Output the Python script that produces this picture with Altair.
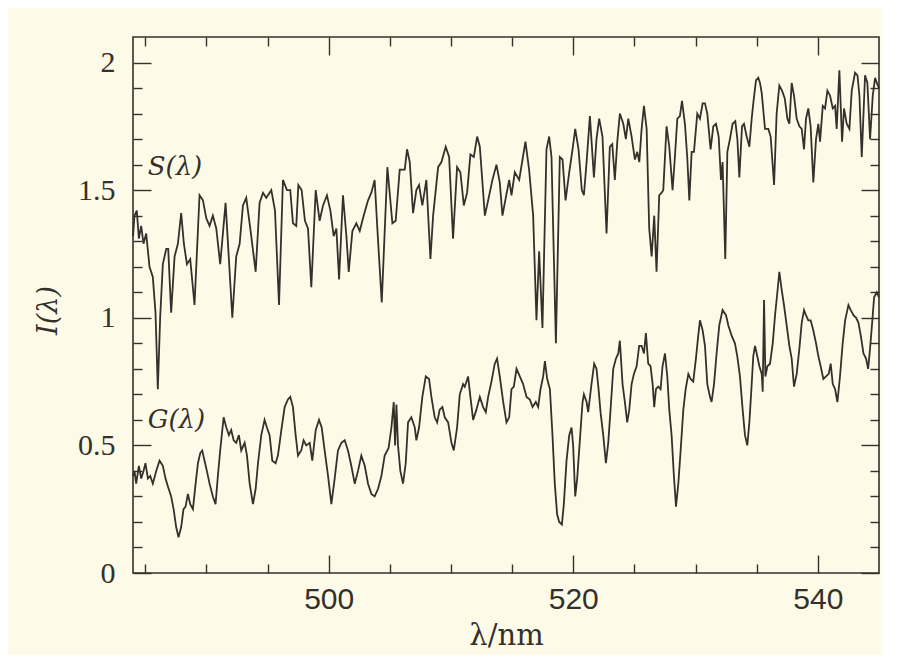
import altair as alt
import pandas as pd

# ---- data ----
s_wl = [484.0, 484.12, 484.31, 484.48, 484.67, 484.86, 485.08, 485.35, 485.62, 485.84,
        486.03, 486.22, 486.44, 486.72, 486.88, 487.12, 487.40, 487.67, 487.94, 488.16,
        488.41, 488.68, 489.03, 489.44, 489.72, 489.99, 490.26, 490.53, 490.81, 491.13,
        491.57, 491.84, 492.12, 492.44, 492.72, 492.99, 493.26, 493.59, 494.03, 494.35,
        494.63, 494.90, 495.31, 495.61, 495.94, 496.26, 496.59, 496.86, 497.08, 497.35,
        497.52, 497.79, 498.06, 498.31, 498.58, 498.94, 499.26, 499.54, 499.86, 500.14,
        500.41, 500.63, 500.85, 501.17, 501.45, 501.64, 501.94, 502.26, 502.54, 502.86,
        503.22, 503.49, 503.76, 503.98, 504.34, 504.80, 505.21, 505.48, 505.81, 506.22,
        506.41, 506.63, 506.90, 507.17, 507.39, 507.66, 507.99, 508.32, 508.54, 508.95,
        509.22, 509.57, 509.85, 510.17, 510.50, 510.77, 511.05, 511.32, 511.59, 511.87,
        512.14, 512.36, 512.77, 513.04, 513.39, 513.72, 513.99, 514.21, 514.48, 514.76,
        514.95, 515.22, 515.58, 515.85, 516.09, 516.39, 516.72, 516.99, 517.21, 517.48,
        517.81, 518.03, 518.22, 518.58, 518.90, 519.12, 519.37, 519.67, 519.94, 520.16,
        520.43, 520.70, 520.87, 521.09, 521.36, 521.69, 521.90, 522.12, 522.39, 522.72,
        522.99, 523.19, 523.40, 523.60, 523.81, 524.09, 524.30, 524.50, 524.77, 525.04,
        525.23, 525.40, 525.59, 525.78, 526.00, 526.21, 526.41, 526.62, 526.81, 527.03,
        527.22, 527.36, 527.63, 527.85, 528.12, 528.31, 528.51, 528.72, 528.89, 529.13,
        529.32, 529.49, 529.68, 529.87, 530.14, 530.36, 530.58, 530.77, 530.96, 531.23,
        531.45, 531.67, 531.89, 532.08, 532.21, 532.43, 532.60, 532.81, 533.03, 533.25,
        533.42, 533.58, 533.80, 533.96, 534.18, 534.40, 534.59, 534.72, 534.94, 535.13,
        535.27, 535.41, 535.68, 535.95, 536.14, 536.42, 536.63, 536.85, 537.07, 537.29,
        537.51, 537.67, 537.86, 538.05, 538.27, 538.49, 538.68, 538.87, 539.03, 539.22,
        539.41, 539.63, 539.85, 540.04, 540.18, 540.40, 540.59, 540.78, 541.00, 541.22,
        541.41, 541.54, 541.76, 541.98, 542.14, 542.36, 542.58, 542.77, 543.04, 543.24,
        543.40, 543.59, 543.86, 544.05, 544.27, 544.49, 544.68, 544.82, 545.00]
s_val = [1.32, 1.40, 1.42, 1.31, 1.36, 1.29, 1.33, 1.20, 1.16, 1.02,
         0.72, 1.00, 1.21, 1.27, 1.27, 1.02, 1.24, 1.29, 1.41, 1.29,
         1.21, 1.23, 1.05, 1.48, 1.46, 1.39, 1.36, 1.40, 1.35, 1.21,
         1.45, 1.23, 1.00, 1.24, 1.29, 1.44, 1.47, 1.35, 1.18, 1.45,
         1.49, 1.47, 1.50, 1.42, 1.05, 1.54, 1.50, 1.50, 1.37, 1.36,
         1.52, 1.50, 1.38, 1.35, 1.12, 1.50, 1.38, 1.44, 1.48, 1.42,
         1.32, 1.35, 1.15, 1.48, 1.32, 1.18, 1.34, 1.37, 1.34, 1.40,
         1.46, 1.49, 1.54, 1.35, 1.06, 1.59, 1.37, 1.38, 1.58, 1.58,
         1.66, 1.61, 1.41, 1.50, 1.52, 1.44, 1.54, 1.23, 1.40, 1.59,
         1.61, 1.67, 1.63, 1.31, 1.59, 1.57, 1.44, 1.49, 1.64, 1.63,
         1.71, 1.67, 1.40, 1.46, 1.54, 1.60, 1.53, 1.40, 1.47, 1.54,
         1.48, 1.57, 1.54, 1.62, 1.69, 1.58, 1.40, 0.99, 1.26, 0.96,
         1.66, 1.71, 1.63, 0.90, 1.63, 1.62, 1.46, 1.57, 1.66, 1.74,
         1.66, 1.50, 1.48, 1.61, 1.79, 1.55, 1.70, 1.78, 1.71, 1.33,
         1.67, 1.68, 1.54, 1.69, 1.80, 1.76, 1.70, 1.78, 1.71, 1.62,
         1.65, 1.61, 1.74, 1.83, 1.74, 1.35, 1.24, 1.40, 1.18, 1.48,
         1.49, 1.50, 1.75, 1.67, 1.50, 1.63, 1.78, 1.79, 1.85, 1.76,
         1.63, 1.46, 1.65, 1.65, 1.80, 1.78, 1.84, 1.84, 1.80, 1.66,
         1.75, 1.76, 1.71, 1.54, 1.61, 1.23, 1.65, 1.70, 1.76, 1.77,
         1.70, 1.55, 1.75, 1.76, 1.71, 1.67, 1.78, 1.84, 1.93, 1.94,
         1.92, 1.88, 1.74, 1.74, 1.71, 1.52, 1.80, 1.91, 1.89, 1.86,
         1.78, 1.76, 1.92, 1.87, 1.78, 1.75, 1.74, 1.66, 1.78, 1.82,
         1.75, 1.53, 1.70, 1.76, 1.69, 1.83, 1.82, 1.89, 1.87, 1.82,
         1.83, 1.74, 1.97, 1.69, 1.82, 1.76, 1.74, 1.89, 1.96, 1.95,
         1.87, 1.63, 1.95, 1.92, 1.70, 1.87, 1.94, 1.92, 1.90]

g_wl = [484.0, 484.12, 484.26, 484.48, 484.67, 484.86, 485.02, 485.22, 485.41, 485.62,
        485.90, 486.17, 486.44, 486.66, 486.85, 487.12, 487.32, 487.53, 487.72, 487.94,
        488.13, 488.30, 488.49, 488.68, 488.90, 489.12, 489.31, 489.50, 489.66, 489.85,
        490.04, 490.26, 490.53, 490.75, 490.94, 491.13, 491.41, 491.63, 491.84, 492.03,
        492.23, 492.44, 492.66, 492.85, 493.13, 493.32, 493.54, 493.81, 494.03, 494.22,
        494.49, 494.76, 494.95, 495.17, 495.39, 495.66, 495.85, 496.13, 496.40, 496.67,
        496.86, 497.08, 497.30, 497.49, 497.76, 497.95, 498.17, 498.45, 498.66, 498.94,
        499.21, 499.43, 499.67, 499.95, 500.22, 500.49, 500.76, 501.04, 501.31, 501.58,
        501.85, 502.13, 502.40, 502.67, 502.95, 503.22, 503.49, 503.76, 504.04, 504.31,
        504.58, 504.90, 505.13, 505.32, 505.43, 505.54, 505.67, 505.86, 506.08, 506.30,
        506.49, 506.76, 507.04, 507.17, 507.39, 507.66, 507.94, 508.21, 508.40, 508.67,
        508.87, 509.08, 509.30, 509.49, 509.77, 510.04, 510.23, 510.50, 510.72, 510.99,
        511.13, 511.40, 511.59, 511.81, 512.08, 512.36, 512.63, 512.85, 513.04, 513.31,
        513.58, 513.77, 513.99, 514.27, 514.54, 514.76, 514.95, 515.14, 515.36, 515.63,
        515.90, 516.18, 516.45, 516.67, 516.94, 517.13, 517.32, 517.54, 517.68, 517.87,
        518.09, 518.30, 518.49, 518.68, 518.85, 519.07, 519.23, 519.45, 519.67, 519.86,
        519.99, 520.16, 520.32, 520.54, 520.76, 520.87, 521.09, 521.22, 521.49, 521.71,
        521.90, 522.07, 522.23, 522.45, 522.67, 522.86, 523.05, 523.27, 523.49, 523.68,
        523.81, 524.03, 524.22, 524.41, 524.58, 524.77, 524.96, 525.18, 525.39, 525.59,
        525.78, 525.94, 526.13, 526.32, 526.49, 526.62, 526.76, 526.95, 527.14, 527.30,
        527.50, 527.69, 527.85, 528.04, 528.23, 528.40, 528.59, 528.78, 529.00, 529.19,
        529.41, 529.60, 529.81, 530.03, 530.22, 530.36, 530.58, 530.77, 530.96, 531.18,
        531.31, 531.51, 531.72, 531.94, 532.21, 532.49, 532.68, 532.95, 533.22, 533.41,
        533.63, 533.85, 534.04, 534.23, 534.40, 534.59, 534.72, 534.86, 535.00, 535.22,
        535.41, 535.49, 535.60, 535.71, 535.87, 536.09, 536.31, 536.50, 536.69, 536.85,
        537.04, 537.23, 537.45, 537.67, 537.86, 538.05, 538.27, 538.49, 538.68, 538.87,
        539.03, 539.22, 539.41, 539.63, 539.85, 540.04, 540.23, 540.45, 540.67, 540.89,
        541.05, 541.22, 541.41, 541.60, 541.81, 542.03, 542.23, 542.50, 542.69, 542.91,
        543.13, 543.32, 543.51, 543.73, 543.94, 544.11, 544.27, 544.44, 544.60, 544.82,
        545.00]
g_val = [0.38, 0.40, 0.35, 0.42, 0.37, 0.40, 0.43, 0.37, 0.38, 0.35,
         0.40, 0.44, 0.42, 0.37, 0.34, 0.30, 0.25, 0.18, 0.14, 0.18,
         0.25, 0.26, 0.31, 0.27, 0.25, 0.35, 0.43, 0.47, 0.48, 0.44,
         0.40, 0.35, 0.30, 0.27, 0.38, 0.48, 0.61, 0.57, 0.54, 0.56,
         0.52, 0.51, 0.54, 0.48, 0.51, 0.46, 0.35, 0.27, 0.33, 0.43,
         0.54, 0.60, 0.57, 0.54, 0.44, 0.43, 0.46, 0.56, 0.65, 0.68,
         0.69, 0.65, 0.54, 0.46, 0.48, 0.52, 0.50, 0.51, 0.44, 0.56,
         0.60, 0.57, 0.48, 0.38, 0.27, 0.37, 0.48, 0.51, 0.52, 0.48,
         0.42, 0.35, 0.40, 0.46, 0.42, 0.35, 0.31, 0.30, 0.33, 0.38,
         0.46, 0.49, 0.57, 0.67, 0.50, 0.66, 0.50, 0.40, 0.35, 0.43,
         0.59, 0.61, 0.57, 0.52, 0.57, 0.69, 0.77, 0.76, 0.69, 0.61,
         0.59, 0.64, 0.65, 0.61, 0.59, 0.51, 0.48, 0.57, 0.70, 0.74,
         0.73, 0.77, 0.69, 0.60, 0.64, 0.69, 0.65, 0.63, 0.69, 0.75,
         0.82, 0.84, 0.77, 0.67, 0.59, 0.61, 0.72, 0.73, 0.80, 0.77,
         0.74, 0.69, 0.68, 0.65, 0.67, 0.65, 0.72, 0.77, 0.83, 0.76,
         0.72, 0.54, 0.35, 0.23, 0.20, 0.19, 0.27, 0.44, 0.54, 0.57,
         0.50, 0.30, 0.37, 0.52, 0.67, 0.70, 0.67, 0.63, 0.74, 0.82,
         0.80, 0.72, 0.63, 0.54, 0.43, 0.51, 0.64, 0.80, 0.84, 0.86,
         0.91, 0.74, 0.67, 0.59, 0.64, 0.74, 0.78, 0.81, 0.89, 0.89,
         0.86, 0.94, 0.82, 0.81, 0.74, 0.65, 0.72, 0.73, 0.72, 0.81,
         0.86, 0.77, 0.64, 0.54, 0.38, 0.26, 0.35, 0.48, 0.64, 0.72,
         0.78, 0.76, 0.75, 0.84, 0.93, 0.99, 0.95, 0.89, 0.74, 0.69,
         0.67, 0.74, 0.86, 0.97, 1.03, 1.01, 0.97, 0.93, 0.90, 0.85,
         0.77, 0.64, 0.54, 0.50, 0.59, 0.74, 0.85, 0.89, 0.86, 0.81,
         0.78, 0.71, 1.07, 0.77, 0.81, 0.82, 0.90, 1.01, 1.10, 1.18,
         1.11, 1.05, 0.97, 0.89, 0.84, 0.73, 0.78, 0.88, 0.98, 1.03,
         1.01, 0.99, 0.99, 0.95, 0.90, 0.85, 0.81, 0.76, 0.77, 0.78,
         0.82, 0.74, 0.72, 0.67, 0.77, 0.90, 0.99, 1.05, 1.03, 1.01,
         1.00, 0.98, 0.93, 0.86, 0.84, 0.80, 0.88, 0.98, 1.08, 1.10,
         1.08]

label_text = ["S(λ)", "G(λ)"]
label_wl = [485.2, 485.2]
label_val = [1.59, 0.60]

x_major = [500, 520, 540]
x_minor = [485, 490, 495, 505, 510, 515, 525, 530, 535]
y_major = [0, 0.5, 1, 1.5, 2]
y_minor = [0.1, 0.2, 0.3, 0.4, 0.6, 0.7, 0.8, 0.9, 1.1, 1.2, 1.3, 1.4,
           1.6, 1.7, 1.8, 1.9]

# ---- styling ----
W, H = 746, 536
INK = "#34302c"
BG = "#fdfbe7"
MAJ, MIN = 18, 9

df_s = pd.DataFrame({"wl": s_wl, "I": s_val})
df_g = pd.DataFrame({"wl": g_wl, "I": g_val})
df_lab = pd.DataFrame({"wl": label_wl, "I": label_val, "t": label_text})

xs = alt.Scale(domain=[484, 545], nice=False, zero=False)
ys = alt.Scale(domain=[0, 2.1], nice=False, zero=False)

main_x = alt.Axis(values=x_major, ticks=False, domain=False, grid=False,
                  labelFont="Liberation Sans", labelFontSize=30, labelColor=INK,
                  labelPadding=11, labelFlush=False,
                  title="λ/nm", titleFont="DejaVu Serif", titleFontSize=29,
                  titleFontWeight="normal", titleColor=INK,
                  titleY=71, titleBaseline="alphabetic")
main_y = alt.Axis(values=y_major, ticks=False, domain=False, grid=False,
                  labelFont="Liberation Serif", labelFontSize=30, labelColor=INK,
                  labelPadding=18, labelFlush=False, format="~g",
                  title="I(λ)", titleFont="DejaVu Serif", titleFontSize=27,
                  titleFontStyle="italic", titleFontWeight="normal", titleColor=INK,
                  titleX=-85, titleY=273, titleBaseline="middle", titleAngle=270)

s_line = alt.Chart(df_s).mark_line(color=INK, strokeWidth=1.8).encode(
    x=alt.X("wl:Q", scale=xs, axis=main_x),
    y=alt.Y("I:Q", scale=ys, axis=main_y),
)
g_line = alt.Chart(df_g).mark_line(color=INK, strokeWidth=1.8).encode(
    x=alt.X("wl:Q", scale=xs, axis=None),
    y=alt.Y("I:Q", scale=ys, axis=None),
)
labels = alt.Chart(df_lab).mark_text(
    align="left", baseline="middle", font="DejaVu Serif",
    fontStyle="italic", fontSize=26, color=INK
).encode(
    x=alt.X("wl:Q", scale=xs, axis=None),
    y=alt.Y("I:Q", scale=ys, axis=None),
    text="t:N",
)


def tick_layer(xorient, yorient, xvals, yvals, size):
    xa = alt.Axis(orient=xorient, offset=-H, values=xvals, tickSize=size,
                  tickColor=INK, tickWidth=1.4, labels=False, domain=False,
                  grid=False, title=None)
    ya = alt.Axis(orient=yorient, offset=-W, values=yvals, tickSize=size,
                  tickColor=INK, tickWidth=1.4, labels=False, domain=False,
                  grid=False, title=None)
    return alt.Chart(df_s).mark_point(opacity=0, size=1).encode(
        x=alt.X("wl:Q", scale=xs, axis=xa),
        y=alt.Y("I:Q", scale=ys, axis=ya),
    )


ticks = [
    tick_layer("top", "right", x_major, y_major, MAJ),     # bottom & left edges
    tick_layer("top", "right", x_minor, y_minor, MIN),
    tick_layer("bottom", "left", x_major, y_major, MAJ),   # top & right edges
    tick_layer("bottom", "left", x_minor, y_minor, MIN),
]

chart = alt.layer(s_line, g_line, labels, *ticks).resolve_axis(
    x="independent", y="independent"
).properties(
    width=W, height=H,
    autosize=alt.AutoSizeParams(type="none"),
    padding={"left": 125, "top": 29, "right": 3, "bottom": 82},
    background=BG,
).configure_view(stroke=INK, strokeWidth=1.6)

chart.save("out.html", embed_options={"renderer": "svg", "actions": False})
